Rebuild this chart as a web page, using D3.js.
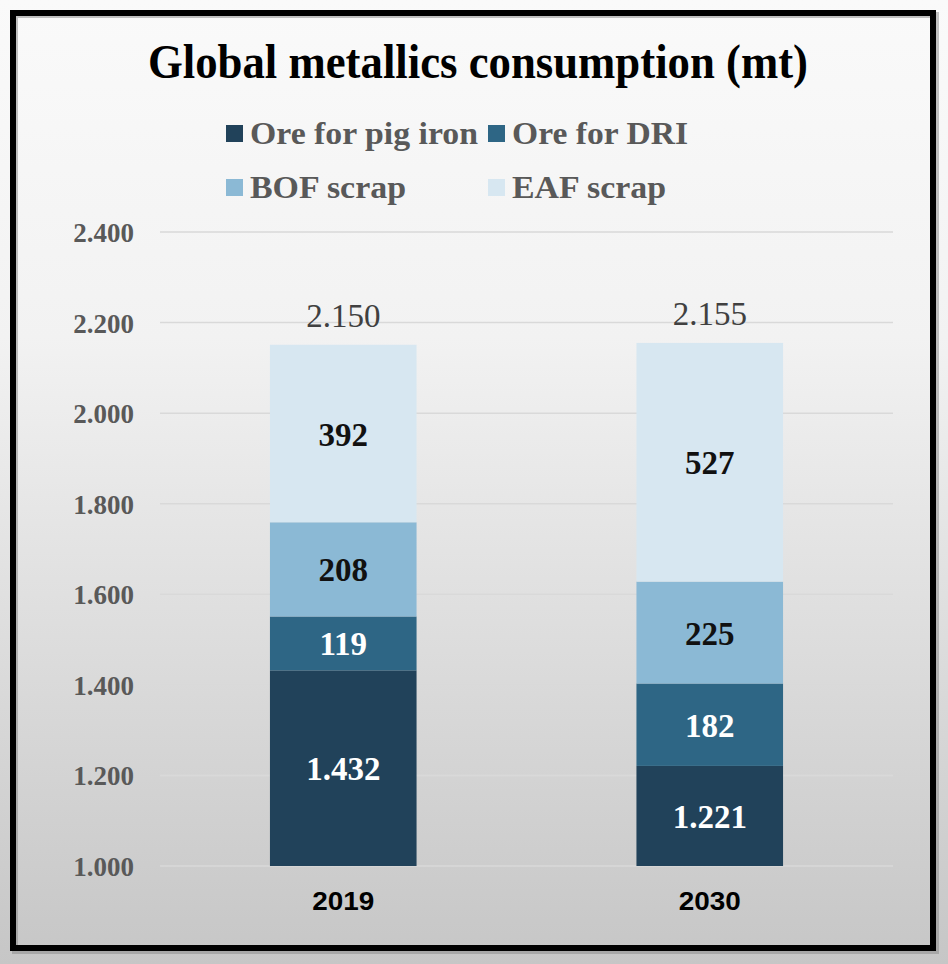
<!DOCTYPE html>
<html><head><meta charset="utf-8">
<script src="https://cdn.jsdelivr.net/npm/d3@7"></script>
<style>html,body{margin:0;padding:0;background:#fff;}svg{display:block;}</style>
</head><body>
<script>
const categories = ["2019", "2030"];
const seriesNames = ["Ore for pig iron", "Ore for DRI", "BOF scrap", "EAF scrap"];
const orePigIron = [1432, 1221];
const oreDRI = [119, 182];
const bofScrap = [208, 225];
const eafScrap = [392, 527];
const totalLabels = ["2.150", "2.155"];
const segmentLabels = [["1.432", "119", "208", "392"], ["1.221", "182", "225", "527"]];
const yTicks = [1000, 1200, 1400, 1600, 1800, 2000, 2200, 2400];
const yTickLabels = ["1.000", "1.200", "1.400", "1.600", "1.800", "2.000", "2.200", "2.400"];
const colors = ["#21425a", "#2e6685", "#8bb9d5", "#d7e7f1"];
const labelColors = ["#ffffff", "#ffffff", "#111111", "#111111"];

(function () {
const W = 948, H = 964;
const svg = d3.select("body").append("svg").attr("width", W).attr("height", H);
const defs = svg.append("defs");
const grad = defs.append("linearGradient").attr("id", "bg").attr("x1", 0).attr("y1", 0).attr("x2", 0).attr("y2", 1);
grad.append("stop").attr("offset", "0%").attr("stop-color", "#fafafa");
grad.append("stop").attr("offset", "35%").attr("stop-color", "#f2f2f2");
grad.append("stop").attr("offset", "100%").attr("stop-color", "#c6c6c6");
svg.append("rect").attr("width", W).attr("height", H).attr("fill", "url(#bg)");

svg.append("rect").attr("x", 15).attr("y", 15).attr("width", 921).attr("height", 936)
  .attr("fill", "none").attr("stroke", "#888").attr("stroke-width", 6).attr("opacity", 0.5);
svg.append("rect").attr("x", 13).attr("y", 13).attr("width", 920).attr("height", 935)
  .attr("fill", "none").attr("stroke", "#000").attr("stroke-width", 6);

const serif = "'Liberation Serif','Times New Roman',serif";
const sans = "'Liberation Sans',Arial,sans-serif";

svg.append("text").attr("x", 478).attr("y", 78).attr("text-anchor", "middle")
  .attr("font-family", serif).attr("font-weight", "bold").attr("font-size", 49)
  .attr("textLength", 660).attr("lengthAdjust", "spacingAndGlyphs")
  .attr("fill", "#000").text("Global metallics consumption (mt)");

const legendPos = [[226, 133], [488, 133], [226, 187], [488, 187]];
const legendW = [228, 176, 156, 154];
seriesNames.forEach((n, i) => {
  const g = svg.append("g").attr("transform", `translate(${legendPos[i][0]},${legendPos[i][1]})`);
  g.append("rect").attr("x", 0).attr("y", -8).attr("width", 17).attr("height", 17).attr("fill", colors[i]);
  g.append("text").attr("x", 24).attr("y", 11).attr("font-family", serif).attr("font-weight", "bold")
    .attr("font-size", 31).attr("fill", "#595959")
    .attr("textLength", legendW[i]).attr("lengthAdjust", "spacingAndGlyphs").text(n);
});

const x = d3.scaleBand().domain(categories).range([160, 893]).paddingInner(0).paddingOuter(0);
const y = d3.scaleLinear().domain([1000, 2400]).range([866, 232]);

svg.append("g").selectAll("line").data(yTicks).join("line")
  .attr("x1", 160).attr("x2", 893).attr("y1", d => y(d)).attr("y2", d => y(d))
  .attr("stroke", "#d9d9d9").attr("stroke-width", 1.5);

svg.append("g").selectAll("text").data(yTicks).join("text")
  .attr("x", 134).attr("y", d => y(d) + 10).attr("text-anchor", "end")
  .attr("font-family", serif).attr("font-weight", "bold").attr("font-size", 27)
  .attr("fill", "#595959").text((d, i) => yTickLabels[i]);

const table = categories.map((c, i) => ({cat: c, s0: orePigIron[i], s1: oreDRI[i], s2: bofScrap[i], s3: eafScrap[i]}));
const stacked = d3.stack().keys(["s0", "s1", "s2", "s3"])(table);
const bw = x.bandwidth() * 0.4;
const bx = c => x(c) + x.bandwidth() * 0.3;

stacked.forEach((layer, k) => {
  svg.append("g").selectAll("rect").data(layer).join("rect")
    .attr("x", d => bx(d.data.cat)).attr("width", bw)
    .attr("y", d => y(Math.max(d[1], 1000)))
    .attr("height", d => y(Math.max(d[0], 1000)) - y(Math.max(d[1], 1000)))
    .attr("fill", colors[k]);
});

stacked.forEach((layer, k) => {
  svg.append("g").selectAll("text").data(layer).join("text")
    .attr("x", d => bx(d.data.cat) + bw / 2)
    .attr("y", d => (y(Math.max(d[0], 1000)) + y(d[1])) / 2 + 12)
    .attr("text-anchor", "middle").attr("font-family", serif).attr("font-weight", "bold")
    .attr("font-size", 33).attr("fill", labelColors[k])
    .text((d, i) => segmentLabels[i][k]);
});

const topLayer = stacked[3];
svg.append("g").selectAll("text").data(topLayer).join("text")
  .attr("x", d => bx(d.data.cat) + bw / 2).attr("y", d => y(d[1]) - 18)
  .attr("text-anchor", "middle").attr("font-family", serif).attr("font-size", 33)
  .attr("fill", "#404040").text((d, i) => totalLabels[i]);

svg.append("g").selectAll("text").data(categories).join("text")
  .attr("x", d => x(d) + x.bandwidth() / 2).attr("y", 910)
  .attr("text-anchor", "middle").attr("font-family", sans).attr("font-weight", "bold")
  .attr("font-size", 26).attr("fill", "#000")
  .attr("textLength", 62).attr("lengthAdjust", "spacingAndGlyphs").text(d => d);
})();
</script>
</body></html>
